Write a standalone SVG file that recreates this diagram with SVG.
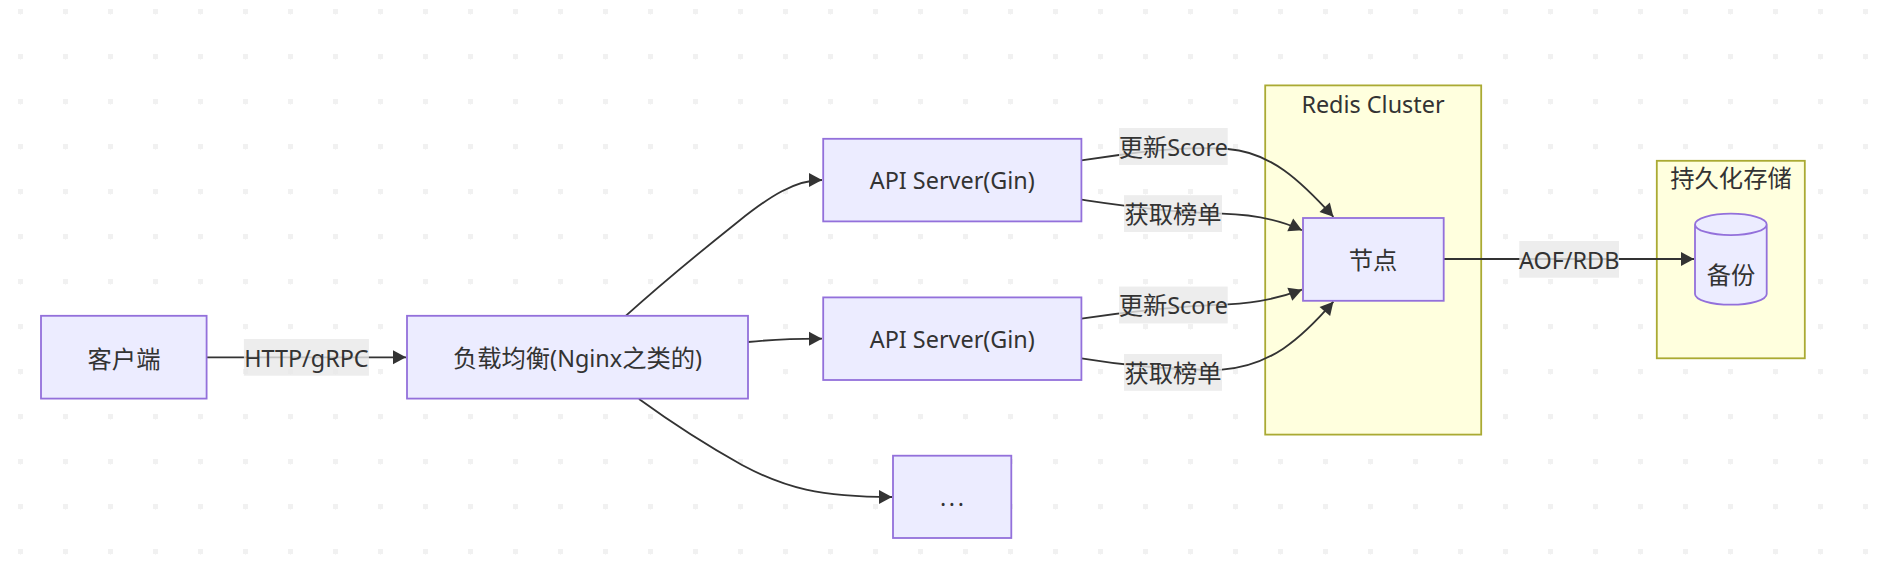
<svg xmlns="http://www.w3.org/2000/svg" width="1885" height="588" viewBox="0 0 1885 588">
<style>
text{font-family:"Noto Sans CJK SC","Noto Sans",sans-serif;font-size:24.3px;fill:#333;text-anchor:middle}
.l{font-family:"Noto Sans","Noto Sans CJK SC",sans-serif;font-size:23.4px}
.n{fill:#ececff;stroke:#9370db;stroke-width:1.8}
.c{fill:#ffffde;stroke:#aaaa33;stroke-width:1.8}
.e{fill:none;stroke:#333;stroke-width:1.8;marker-end:url(#arrow)}
.b{fill:#e8e8e8;fill-opacity:.8;stroke:none}
</style>
<defs>
<pattern id="dots" width="45" height="45" patternUnits="userSpaceOnUse">
<rect x="18" y="9" width="5" height="5" fill="#f1f1f1"/>
<rect x="20" y="14" width="1" height="1" fill="#f6f6f6"/>
</pattern>
<marker id="arrow" markerUnits="userSpaceOnUse" markerWidth="16" markerHeight="16" viewBox="0 0 16 16" refX="14" refY="8" orient="auto">
<path d="M1 1L14 8L1 15Z" fill="#333"/>
</marker>
</defs>
<rect width="1885" height="588" fill="#fff"/>
<rect width="1885" height="588" fill="url(#dots)"/>
<g id="cluster-redis">
<rect class="c" x="1265.2" y="85.4" width="216" height="349.2"/>
<text x="1373" y="112.5"><tspan class="l">Redis Cluster</tspan></text>
</g>
<g id="cluster-persist">
<rect class="c" x="1656.8" y="160.8" width="148" height="197.5"/>
<text x="1731" y="187">持久化存储</text>
</g>
<g id="connectors">
<path class="e" d="M207 357.3H406"/>
<path class="e" d="M626 315.7C660 285 700 252 738 221.7C770 196 795 180 822 180"/>
<path class="e" d="M748 342C768 340 790 338.6 822 338.7"/>
<path class="e" d="M639 399C672 423 708 446 742 465C785 488 820 497 892 497"/>
<path class="e" d="M1081.4 160.3L1119 155C1150 150.5 1190 146 1227.7 149C1270 152 1300 180 1333.4 216.8"/>
<path class="e" d="M1081.4 199.7C1110 204 1160 212 1222 213.7C1255 214.5 1280 220 1302 230.3"/>
<path class="e" d="M1081.4 318.7C1125 312 1180 306 1227.7 304.3C1255 303 1280 298 1302 289.7"/>
<path class="e" d="M1081.4 358.3C1110 363 1170 371 1222 369.7C1270 366 1300 340 1333.4 301.7"/>
<path class="e" d="M1443.7 259H1694"/>
</g>
<g id="node-client"><rect class="n" x="41" y="315.8" width="165.6" height="82.8"/><text x="124" y="367.5">客户端</text></g>
<g id="node-lb"><rect class="n" x="407" y="315.8" width="341" height="82.8"/><text x="577.5" y="367"><tspan>负载均衡</tspan><tspan class="l">(Nginx</tspan><tspan>之类的</tspan><tspan class="l">)</tspan></text></g>
<g id="node-api1"><rect class="n" x="823.2" y="138.8" width="258.2" height="82.6"/><text x="952.3" y="189.3"><tspan class="l">API Server(Gin)</tspan></text></g>
<g id="node-api2"><rect class="n" x="823.2" y="297.4" width="258.2" height="82.6"/><text x="952.3" y="347.8"><tspan class="l">API Server(Gin)</tspan></text></g>
<g id="node-more"><rect class="n" x="893" y="455.7" width="118.3" height="82.3"/><text x="952" y="505.5" textLength="24" lengthAdjust="spacing"><tspan class="l">...</tspan></text></g>
<g id="node-redis"><rect class="n" x="1303" y="218" width="140.7" height="82.8"/><text x="1373" y="268.5">节点</text></g>
<g id="node-backup"><path class="n" d="M1695 224.4a35.85 10.7 0 0 0 71.7 0a35.85 10.7 0 0 0-71.7 0v69.6a35.85 10.7 0 0 0 71.7 0v-69.6"/><text x="1731" y="284">备份</text></g>
<g id="edge-labels">
<g><rect class="b" x="243.9" y="339" width="125" height="36.7"/><text x="306.4" y="366.7"><tspan class="l">HTTP/gRPC</tspan></text></g>
<g><rect class="b" x="1119" y="128" width="108.7" height="36.9"/><text x="1173.3" y="155.7"><tspan>更新</tspan><tspan class="l">Score</tspan></text></g>
<g><rect class="b" x="1124" y="195.2" width="98" height="36.8"/><text x="1173" y="222.8">获取榜单</text></g>
<g><rect class="b" x="1119" y="286.6" width="108.7" height="36.8"/><text x="1173.3" y="314.3"><tspan>更新</tspan><tspan class="l">Score</tspan></text></g>
<g><rect class="b" x="1124" y="354" width="98" height="36.8"/><text x="1173" y="381.5">获取榜单</text></g>
<g><rect class="b" x="1519.3" y="241" width="99.7" height="36.7"/><text x="1569.2" y="268.5"><tspan class="l">AOF/RDB</tspan></text></g>
</g>
</svg>
